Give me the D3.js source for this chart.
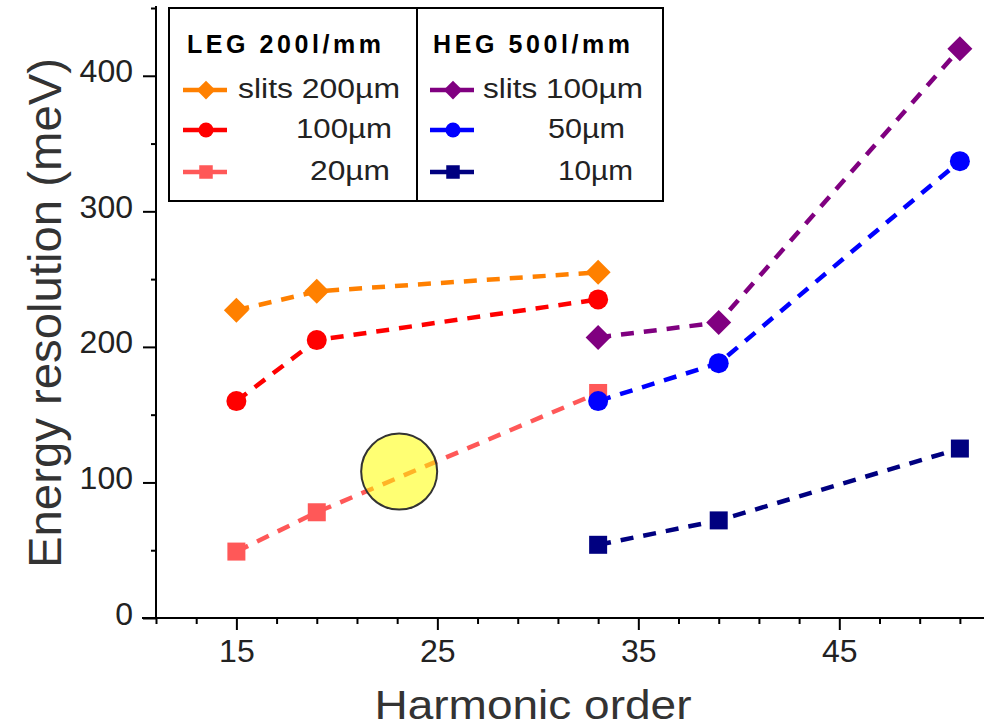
<!DOCTYPE html>
<html><head><meta charset="utf-8">
<script src="https://cdn.jsdelivr.net/npm/d3@7"></script>
<style>
html,body{margin:0;padding:0;background:#fff;}
svg{display:block;}
text{font-family:"Liberation Sans",Arial,sans-serif;}
</style></head>
<body><svg id="c" width="984" height="728"></svg>
<script>
// ---- data ----
const harmonicsLEG = [15, 19, 33];
const harmonicsHEG = [33, 39, 51];
const legSlit200 = [227, 241, 255];
const legSlit100 = [160, 205, 235];
const legSlit20  = [49, 78, 166];
const hegSlit100 = [207, 218, 420];
const hegSlit50  = [160, 188, 337];
const hegSlit10  = [54, 72, 125];
const xTickValues = [11,13,15,17,19,21,23,25,27,29,31,33,35,37,39,41,43,45,47,49,51];
const xTickLabels = [15, 25, 35, 45];
const yTickValues = [0,50,100,150,200,250,300,350,400,450];
const yTickLabels = [0, 100, 200, 300, 400];
const legendGroups = ["LEG 200l/mm", "HEG 500l/mm"];
const legendLabels = [["slits 200\u00b5m","100\u00b5m","20\u00b5m"],["slits 100\u00b5m","50\u00b5m","10\u00b5m"]];
const highlightAt = [23.1, 108];

const series = [
  {x: harmonicsLEG, y: legSlit200, color: "#ff8000", shape: "diamond"},
  {x: harmonicsLEG, y: legSlit100, color: "#ff0000", shape: "circle"},
  {x: harmonicsLEG, y: legSlit20,  color: "#ff5858", shape: "square"},
  {x: harmonicsHEG, y: hegSlit100, color: "#800080", shape: "diamond"},
  {x: harmonicsHEG, y: hegSlit50,  color: "#0000ff", shape: "circle"},
  {x: harmonicsHEG, y: hegSlit10,  color: "#000080", shape: "square"}
];

const svg = d3.select("#c");
const x = d3.scaleLinear().domain([11, 52.2]).range([156, 984]);
const y = d3.scaleLinear().domain([0, 450]).range([618, 8]);
const narrow = "'Liberation Sans Narrow', 'Liberation Sans', Arial, sans-serif";

// x axis
const xAxis = d3.axisBottom(x).tickValues(xTickValues).tickSize(6).tickPadding(0)
  .tickFormat(d => xTickLabels.includes(d) ? d : "");
const gx = svg.append("g").attr("transform", "translate(0,618)").call(xAxis);
gx.select(".domain").attr("d", `M142,0H984`).attr("stroke", "#000").attr("stroke-width", 2);
gx.selectAll(".tick line").attr("stroke", "#000").attr("stroke-width", 2)
  .attr("y2", d => xTickLabels.includes(d) ? 12 : 6);
gx.selectAll(".tick text").attr("font-size", 32).attr("fill", "#222").attr("font-family", narrow)
  .attr("y", 44).attr("dy", 0);

// y axis
const yAxis = d3.axisLeft(y).tickValues(yTickValues).tickSize(5).tickPadding(0)
  .tickFormat(d => yTickLabels.includes(d) ? d : "");
const gy = svg.append("g").attr("transform", "translate(156,0)").call(yAxis);
gy.select(".domain").attr("d", `M0,6V618`).attr("stroke", "#000").attr("stroke-width", 2).attr("fill", "none");
gy.selectAll(".tick line").attr("stroke", "#000").attr("stroke-width", 2)
  .attr("x2", d => yTickLabels.includes(d) ? -13 : -5);
gy.selectAll(".tick text").attr("font-size", 32).attr("fill", "#222").attr("font-family", narrow)
  .attr("x", -23).attr("dy", 0).attr("y", 6);

// axis titles
svg.append("text").attr("transform", "translate(61,313) rotate(-90)")
  .attr("text-anchor", "middle").attr("font-size", 46).attr("fill", "#333")
  .attr("textLength", 510).attr("lengthAdjust", "spacingAndGlyphs")
  .text("Energy resolution (meV)");
svg.append("text").attr("x", 533).attr("y", 719)
  .attr("text-anchor", "middle").attr("font-size", 40).attr("fill", "#333")
  .attr("textLength", 317).attr("lengthAdjust", "spacingAndGlyphs")
  .text("Harmonic order");

// symbol drawing
function drawMarker(g, shape, cx, cy, color, s) {
  if (shape === "diamond") {
    const r = 12.5 * s;
    g.append("path").attr("d", `M${cx},${cy-r}L${cx+r},${cy}L${cx},${cy+r}L${cx-r},${cy}Z`).attr("fill", color);
  } else if (shape === "circle") {
    g.append("circle").attr("cx", cx).attr("cy", cy).attr("r", 10 * s).attr("fill", color);
  } else {
    const h = 9 * s;
    g.append("rect").attr("x", cx-h).attr("y", cy-h).attr("width", 2*h).attr("height", 2*h).attr("fill", color);
  }
}

const line = d3.line().x(d => x(d[0])).y(d => y(d[1]));
const plot = svg.append("g");
series.forEach(s => {
  const pts = s.x.map((xv, i) => [xv, s.y[i]]);
  plot.append("path").attr("d", line(pts)).attr("fill", "none")
    .attr("stroke", s.color).attr("stroke-width", 4.5).attr("stroke-dasharray", "13,10");
});
series.forEach(s => {
  s.x.forEach((xv, i) => drawMarker(plot, s.shape, x(xv), y(s.y[i]), s.color, 1));
});

// highlight circle
svg.append("circle").attr("cx", x(highlightAt[0])).attr("cy", y(highlightAt[1])).attr("r", 38)
  .attr("fill", "#ffff00").attr("fill-opacity", 0.55).attr("stroke", "#333").attr("stroke-width", 2);

// legend
const lg = svg.append("g");
lg.append("rect").attr("x", 169).attr("y", 8).attr("width", 494).attr("height", 193)
  .attr("fill", "#fff").attr("stroke", "#000").attr("stroke-width", 2);
lg.append("line").attr("x1", 417).attr("x2", 417).attr("y1", 8).attr("y2", 201)
  .attr("stroke", "#000").attr("stroke-width", 2);
const lineX = [183, 430];
const headerX = [187, 433];
const headerW = [194, 197];
const labelX = [[238, 296, 310], [483, 548, 558]];
const labelW = [[162, 96, 80], [160, 77, 75]];
const rowY = [90, 130, 172];
legendGroups.forEach((gname, gi) => {
  lg.append("text").attr("x", headerX[gi]).attr("y", 53)
    .attr("font-size", 25).attr("font-weight", "bold").attr("fill", "#000")
    .attr("textLength", headerW[gi]).attr("lengthAdjust", "spacing").text(gname);
  legendLabels[gi].forEach((lab, ri) => {
    const s = series[gi * 3 + ri];
    const cy = rowY[ri];
    lg.append("line").attr("x1", lineX[gi]).attr("x2", lineX[gi] + 44).attr("y1", cy).attr("y2", cy)
      .attr("stroke", s.color).attr("stroke-width", 4.5);
    drawMarker(lg, s.shape, lineX[gi] + 23, cy, s.color, 0.75);
    lg.append("text").attr("x", labelX[gi][ri]).attr("y", cy + 8)
      .attr("font-size", 27).attr("fill", "#222")
      .attr("textLength", labelW[gi][ri]).attr("lengthAdjust", "spacingAndGlyphs").text(lab);
  });
});
</script></body></html>
